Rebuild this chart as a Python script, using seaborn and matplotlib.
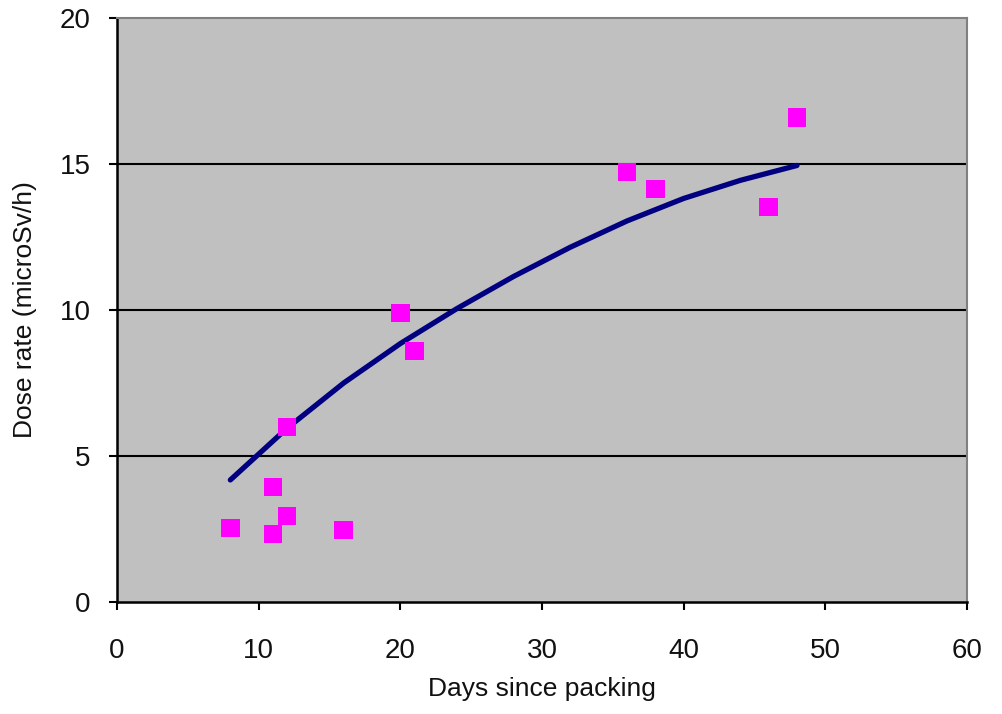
import matplotlib
matplotlib.use("Agg")
import matplotlib.pyplot as plt
import seaborn as sns
import pandas as pd

# Measured points
days = [8, 11, 11, 12, 12, 16, 20, 21, 36, 38, 46, 48]
dose = [2.53, 3.94, 2.33, 2.95, 5.99, 2.47, 9.9, 8.6, 14.73, 14.14, 13.53, 16.6]

# Trend curve
curve_days = [8, 12, 16, 20, 24, 28, 32, 36, 40, 44, 48]
curve_dose = [4.18, 5.95, 7.5, 8.85, 10.05, 11.15, 12.15, 13.05, 13.82, 14.44, 14.95]

x_ticks = [0, 10, 20, 30, 40, 50, 60]
y_ticks = [0, 5, 10, 15, 20]

sns.set_style("ticks")
plt.rcParams['font.family'] = ['Liberation Sans', 'DejaVu Sans']

pts = pd.DataFrame({"days": days, "dose": dose})
crv = pd.DataFrame({"days": curve_days, "dose": curve_dose})

fig = plt.figure(figsize=(10.02, 7.14), dpi=100)
ax = fig.add_axes([117/1002, 1 - 602/714, 850/1002, 584/714])
ax.set_facecolor("#C0C0C0")

for yv in [5, 10, 15]:
    ax.axhline(yv, color="black", lw=1.5, zorder=1)

sns.lineplot(data=crv, x="days", y="dose", ax=ax, color="#000080", lw=3.8,
             zorder=3, estimator=None, sort=True, solid_capstyle="round",
             solid_joinstyle="round")
sns.scatterplot(data=pts, x="days", y="dose", ax=ax, marker="s", s=180,
                color="#FF00FF", edgecolor="none", linewidth=0, zorder=4)

ax.set_xlim(0, 60)
ax.set_ylim(0, 20)
ax.set_xticks(x_ticks)
ax.set_yticks(y_ticks)
ax.tick_params(axis="both", direction="out", length=6, width=1.5, color="black",
               labelsize=20, labelcolor="#111111")
ax.tick_params(axis="y", pad=13)
ax.tick_params(axis="x", pad=20)

for side in ["left", "bottom"]:
    ax.spines[side].set_color("black")
    ax.spines[side].set_linewidth(1.8)
for side in ["top", "right"]:
    ax.spines[side].set_visible(True)
    ax.spines[side].set_color("#808080")
    ax.spines[side].set_linewidth(1.5)

ax.set_xlabel("Days since packing", fontsize=19, color="#111111")
ax.set_ylabel("Dose rate (microSv/h)", fontsize=19, color="#111111")
ax.xaxis.set_label_coords(0.5, -0.128)
ax.yaxis.set_label_coords(-0.094, 0.5)

fig.savefig("out.png", dpi=100, facecolor="white")
